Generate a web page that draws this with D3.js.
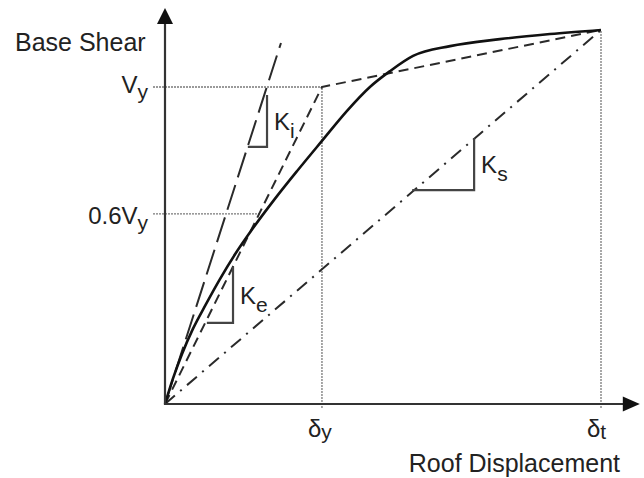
<!DOCTYPE html>
<html>
<head>
<meta charset="utf-8">
<script src="https://cdn.jsdelivr.net/npm/d3@7"></script>
<style>
  html, body { margin: 0; padding: 0; background: #fff; }
  svg { display: block; }
  text { font-family: "Liberation Sans", Arial, Helvetica, sans-serif; fill: #222; }
</style>
</head>
<body>
<svg id="chart" width="644" height="478"></svg>
<script>
// Pushover curve idealisation: base shear vs roof displacement (normalised units)
const dispYield = 0.36;      // δy
const dispTarget = 1.0;      // δt
const shearYield = 1.0;      // Vy
const shearTarget = 1.18;    // shear at δt

// capacity (pushover) curve
const pushoverDisp  = [0, 0.018, 0.039, 0.064, 0.094, 0.126, 0.161, 0.202, 0.252, 0.303, 0.360, 0.417, 0.470, 0.516, 0.569, 0.654, 0.768, 0.883, 1.000];
const pushoverShear = [0, 0.079, 0.158, 0.237, 0.315, 0.394, 0.473, 0.555, 0.647, 0.735, 0.830, 0.924, 1.000, 1.050, 1.098, 1.129, 1.151, 1.167, 1.180];

// initial stiffness line Ki (tangent at origin)
const initialLineDisp  = [0, 0.266];
const initialLineShear = [0, 1.139];

// bilinear idealisation (effective stiffness Ke up to yield, then post-yield branch)
const bilinearDisp  = [0, dispYield, dispTarget];
const bilinearShear = [0, shearYield, shearTarget];

// secant stiffness line Ks to the target point
const secantDisp  = [0, dispTarget];
const secantShear = [0, shearTarget];

// tick labels
const yTickValues = [0.6, 1.0];
const yTickLabels = ["0.6V", "V"];
const yTickSubs   = ["y", "y"];
const xTickValues = [dispYield, dispTarget];
const xTickLabels = ["δ", "δ"];
const xTickSubs   = ["y", "t"];

// stiffness triangles: horizontal leg x1→x2 at yBase, vertical leg up to yTop
const triNames = ["K", "K", "K"];
const triSubs  = ["i", "e", "s"];
const triX1    = [0.190, 0.096, 0.567];
const triX2    = [0.234, 0.156, 0.709];
const triYBase = [0.811, 0.256, 0.675];
const triYTop  = [0.975, 0.432, 0.839];

// axis extents (arrow tips)
const xAxisMax = 1.089;
const yAxisMax = 1.249;

const svg = d3.select("#chart");
const x = d3.scaleLinear().domain([0, 1]).range([165, 601]);
const y = d3.scaleLinear().domain([0, 1]).range([404, 87]);

const line = d3.line().x(d => x(d[0])).y(d => y(d[1]));
const smooth = d3.line().x(d => x(d[0])).y(d => y(d[1])).curve(d3.curveMonotoneX);
const zip = (a, b) => a.map((v, i) => [v, b[i]]);

// reference lines to the tick values
const grid = svg.append("g")
  .attr("stroke", "#7a7a7a").attr("stroke-width", 1.3)
  .attr("stroke-dasharray", "2,1").attr("fill", "none");

// Vy to yield point, 0.6Vy to the effective stiffness line
const yGridEnds = [0.6 * dispYield / shearYield, dispYield];
yTickValues.forEach((v, i) => {
  grid.append("line")
    .attr("x1", x(0) - 12).attr("x2", x(yGridEnds[i]))
    .attr("y1", y(v)).attr("y2", y(v));
});
const xGridTops = [shearYield, shearTarget];
xTickValues.forEach((v, i) => {
  grid.append("line")
    .attr("x1", x(v)).attr("x2", x(v))
    .attr("y1", y(0) + 4).attr("y2", y(xGridTops[i]));
});

// secant line Ks (dash-dot)
svg.append("path")
  .datum(zip(secantDisp, secantShear))
  .attr("d", line)
  .attr("fill", "none").attr("stroke", "#2a2a2a").attr("stroke-width", 2)
  .attr("stroke-dasharray", "13,7,2,7");

// initial stiffness Ki (long dash)
svg.append("path")
  .datum(zip(initialLineDisp, initialLineShear))
  .attr("d", line)
  .attr("fill", "none").attr("stroke", "#2a2a2a").attr("stroke-width", 2)
  .attr("stroke-dasharray", "26,8");

// bilinear curve (short dash)
svg.append("path")
  .datum(zip(bilinearDisp, bilinearShear))
  .attr("d", line)
  .attr("fill", "none").attr("stroke", "#2a2a2a").attr("stroke-width", 2)
  .attr("stroke-linejoin", "round")
  .attr("stroke-dasharray", "10,6");

// pushover curve
svg.append("path")
  .datum(zip(pushoverDisp, pushoverShear))
  .attr("d", smooth)
  .attr("fill", "none").attr("stroke", "#111").attr("stroke-width", 2.6)
  .attr("stroke-linejoin", "round");

// stiffness triangles with labels
triNames.forEach((name, i) => {
  const xa = x(triX1[i]), xb = x(triX2[i]);
  const yb = y(triYBase[i]), yt = y(triYTop[i]);
  svg.append("path")
    .attr("d", `M${xa},${yb}H${xb}V${yt}`)
    .attr("fill", "none").attr("stroke", "#444").attr("stroke-width", 2.2);
  const t = svg.append("text")
    .attr("x", xb + 7).attr("y", (yb + yt) / 2 + 9)
    .attr("font-size", 24);
  t.append("tspan").text(name);
  t.append("tspan").attr("dy", 8).attr("font-size", 21).text(triSubs[i]);
});

// axes with arrowheads
const axes = svg.append("g").attr("stroke", "#333").attr("stroke-width", 2.2);
axes.append("line")
  .attr("x1", x(0)).attr("x2", x(0))
  .attr("y1", y(0) + 1).attr("y2", y(yAxisMax) + 12);
axes.append("line")
  .attr("x1", x(0) - 1).attr("x2", x(xAxisMax) - 14)
  .attr("y1", y(0)).attr("y2", y(0));
svg.append("path")
  .attr("d", `M${x(0)},${y(yAxisMax)}l-8,16h16z`)
  .attr("fill", "#111");
svg.append("path")
  .attr("d", `M${x(xAxisMax)},${y(0)}l-17,-7.5v15z`)
  .attr("fill", "#111");

// y tick labels
const yLabelShift = [10, 6];
yTickValues.forEach((v, i) => {
  const t = svg.append("text")
    .attr("x", x(0) - 17).attr("y", y(v) + yLabelShift[i])
    .attr("text-anchor", "end").attr("font-size", 24);
  t.append("tspan").text(yTickLabels[i]);
  t.append("tspan").attr("dy", 6).attr("font-size", 21).text(yTickSubs[i]);
});

// x tick labels
xTickValues.forEach((v, i) => {
  const t = svg.append("text")
    .attr("x", x(v) - 14).attr("y", 437)
    .attr("font-size", 24);
  t.append("tspan").text(xTickLabels[i]);
  t.append("tspan").attr("dy", 2).attr("font-size", 21).text(xTickSubs[i]);
});

// axis titles
svg.append("text")
  .attr("x", 15).attr("y", 51)
  .attr("font-size", 25).text("Base Shear");
svg.append("text")
  .attr("x", 620).attr("y", 472)
  .attr("text-anchor", "end")
  .attr("font-size", 25).text("Roof Displacement");
</script>
</body>
</html>
